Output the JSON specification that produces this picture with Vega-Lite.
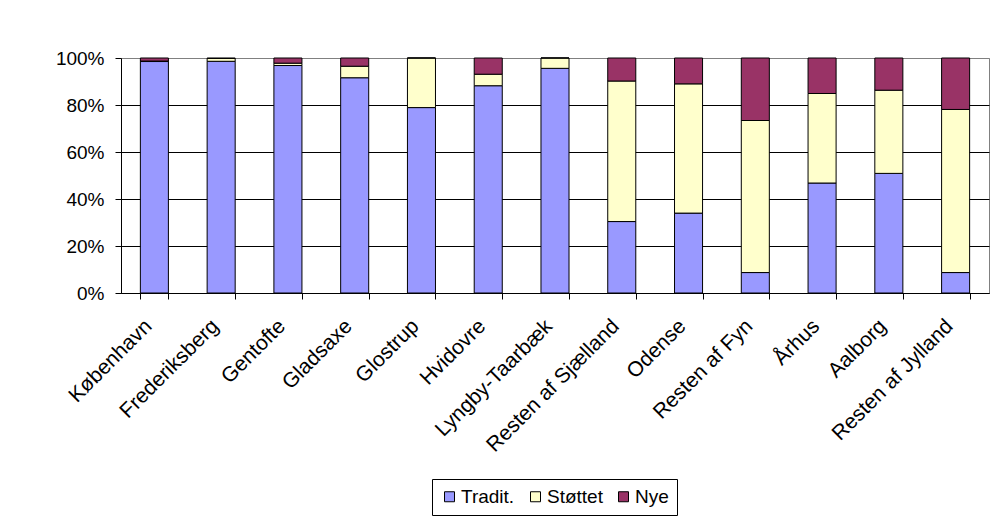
{
  "$schema": "https://vega.github.io/schema/vega-lite/v6.json",
  "width": 868,
  "height": 235,
  "autosize": {"type": "none"},
  "padding": {"left": 121, "top": 58, "right": 5, "bottom": 223},
  "background": "white",
  "data": {"values": [
    {"omr": "København", "type": "Tradit.", "andel": 0.985},
    {"omr": "København", "type": "Støttet", "andel": 0.002},
    {"omr": "København", "type": "Nye", "andel": 0.013},
    {"omr": "Frederiksberg", "type": "Tradit.", "andel": 0.986},
    {"omr": "Frederiksberg", "type": "Støttet", "andel": 0.012},
    {"omr": "Frederiksberg", "type": "Nye", "andel": 0.002},
    {"omr": "Gentofte", "type": "Tradit.", "andel": 0.968},
    {"omr": "Gentofte", "type": "Støttet", "andel": 0.01},
    {"omr": "Gentofte", "type": "Nye", "andel": 0.022},
    {"omr": "Gladsaxe", "type": "Tradit.", "andel": 0.916},
    {"omr": "Gladsaxe", "type": "Støttet", "andel": 0.049},
    {"omr": "Gladsaxe", "type": "Nye", "andel": 0.035},
    {"omr": "Glostrup", "type": "Tradit.", "andel": 0.789},
    {"omr": "Glostrup", "type": "Støttet", "andel": 0.211},
    {"omr": "Glostrup", "type": "Nye", "andel": 0.0},
    {"omr": "Hvidovre", "type": "Tradit.", "andel": 0.882},
    {"omr": "Hvidovre", "type": "Støttet", "andel": 0.049},
    {"omr": "Hvidovre", "type": "Nye", "andel": 0.069},
    {"omr": "Lyngby-Taarbæk", "type": "Tradit.", "andel": 0.956},
    {"omr": "Lyngby-Taarbæk", "type": "Støttet", "andel": 0.044},
    {"omr": "Lyngby-Taarbæk", "type": "Nye", "andel": 0.0},
    {"omr": "Resten af Sjælland", "type": "Tradit.", "andel": 0.304},
    {"omr": "Resten af Sjælland", "type": "Støttet", "andel": 0.598},
    {"omr": "Resten af Sjælland", "type": "Nye", "andel": 0.098},
    {"omr": "Odense", "type": "Tradit.", "andel": 0.34},
    {"omr": "Odense", "type": "Støttet", "andel": 0.55},
    {"omr": "Odense", "type": "Nye", "andel": 0.11},
    {"omr": "Resten af Fyn", "type": "Tradit.", "andel": 0.087},
    {"omr": "Resten af Fyn", "type": "Støttet", "andel": 0.647},
    {"omr": "Resten af Fyn", "type": "Nye", "andel": 0.266},
    {"omr": "Århus", "type": "Tradit.", "andel": 0.468},
    {"omr": "Århus", "type": "Støttet", "andel": 0.381},
    {"omr": "Århus", "type": "Nye", "andel": 0.151},
    {"omr": "Aalborg", "type": "Tradit.", "andel": 0.509},
    {"omr": "Aalborg", "type": "Støttet", "andel": 0.354},
    {"omr": "Aalborg", "type": "Nye", "andel": 0.137},
    {"omr": "Resten af Jylland", "type": "Tradit.", "andel": 0.087},
    {"omr": "Resten af Jylland", "type": "Støttet", "andel": 0.694},
    {"omr": "Resten af Jylland", "type": "Nye", "andel": 0.219}
  ]},
  "mark": {"type": "bar", "stroke": "#000000", "strokeWidth": 1},
  "encoding": {
    "x": {
      "field": "omr", "type": "nominal", "sort": null,
      "scale": {"paddingInner": 0.58, "paddingOuter": 0.29},
      "axis": {
        "title": null, "labelAngle": -45, "labelAlign": "right", "labelBaseline": "top",
        "labelFont": "Liberation Sans", "labelFontSize": 21,
        "labelColor": "#000000", "tickBand": "extent", "tickSize": 6, "tickColor": "#000000",
        "domainColor": "#000000", "labelPadding": 16, "labelOffset": -14
      }
    },
    "y": {
      "field": "andel", "type": "quantitative", "stack": "normalize",
      "scale": {"domain": [0, 1], "nice": false},
      "axis": {
        "title": null, "values": [0, 0.2, 0.4, 0.6, 0.8, 1], "format": ".0%",
        "labelFont": "Liberation Sans", "labelFontSize": 19, "labelColor": "#000000",
        "tickSize": 6, "tickColor": "#000000", "domainColor": "#000000", "labelPadding": 11,
        "grid": true, "gridColor": {"condition": {"test": "datum.value === 1", "value": "#808080"}, "value": "#000000"},
        "gridOpacity": 1
      }
    },
    "color": {
      "field": "type", "type": "nominal",
      "sort": ["Tradit.", "Støttet", "Nye"],
      "scale": {"domain": ["Tradit.", "Støttet", "Nye"], "range": ["#9999FF", "#FFFFCC", "#993366"]},
      "legend": {
        "title": null, "orient": "none", "direction": "horizontal", "legendX": 311, "legendY": 421,
        "strokeColor": "#000000", "padding": 8, "symbolType": "square", "symbolSize": 100,
        "symbolStrokeColor": "#000000", "symbolStrokeWidth": 1, "symbolOpacity": 1,
        "labelFont": "Liberation Sans", "labelFontSize": 19, "labelColor": "#000000",
        "labelOffset": 2, "columnPadding": 11
      }
    }
  },
  "config": {"view": {"stroke": "#808080"}}
}
